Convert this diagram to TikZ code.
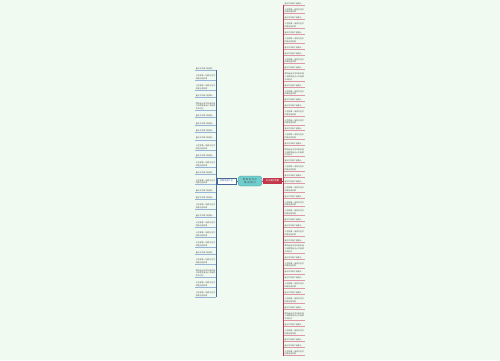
\documentclass[tikz,border=0pt]{standalone}
\usepackage{fontspec}
\newfontfamily\cjk{Noto Sans CJK SC}
\XeTeXlinebreaklocale "zh"
\XeTeXlinebreakskip=0pt plus 1pt
\usetikzlibrary{positioning}
\definecolor{bgcolor}{RGB}{241,250,241}
\definecolor{midcolor}{RGB}{110,205,205}
\definecolor{leftcolor}{RGB}{70,105,150}
\definecolor{leftline}{RGB}{150,180,215}
\definecolor{rightcolor}{RGB}{195,55,75}
\definecolor{rightline}{RGB}{225,150,165}
\newcommand{\leaftext}[1]{\ifcase#1\or
  星光不负每个赶路人\or
  人生就像一场旅行在乎的是沿途风景\or
  愿你走出半生归来仍是少年眼里有光心中有爱不负时光\fi}
\tikzset{
  leaf/.style={inner sep=0.4pt, text width=19.6pt, align=left,
    font=\cjk\fontsize{1.9}{2.7}\selectfont, text=black!70},
  branch/.style={inner sep=0.5pt, minimum width=19pt, minimum height=6pt,
    font=\cjk\fontsize{2.2}{2.8}\selectfont},
}
\begin{document}
\begin{tikzpicture}[x=1pt,y=-1pt]
  \fill[bgcolor] (0,0) rectangle (500,360);
  \useasboundingbox (0,0) rectangle (500,360);
  % centre and branches
  \node[fill=midcolor, draw=midcolor!75!black, line width=0.3pt, rounded corners=3pt,
    minimum width=24pt, minimum height=10pt, inner sep=0.5pt, text width=20pt, align=center,
    font=\cjk\fontsize{2.3}{3}\selectfont, text=black!70] (root) at (250,181)
    {唯美的句子\\精选摘抄};
  \node[branch, draw=leftcolor, fill=white, line width=0.4pt, text=leftcolor] (lbr) at (226.5,181) {经典语录大全};
  \node[branch, fill=rightcolor, text=white] (rbr) at (272.5,181) {句子摘抄合集};
  \draw[leftcolor, line width=0.5pt] (root) -- (lbr);
  \draw[rightcolor, line width=0.5pt] (root) -- (rbr);
  % left leaves
  \foreach \n [count=\i, remember=\i as \j (initially 0)] in
      {1,2,2,1,3,1,1,1,1,2,1,2,1,2,1,1,2,1,2,2,2,1,2,3,2,2}{
    \ifnum\i=1
      \node[leaf, anchor=north east] (l\i) at (216,67) {\leaftext{\n}};
    \else
      \node[leaf, below=4.4pt of l\j.south east, anchor=north east] (l\i) {\leaftext{\n}};
    \fi
    \draw[leftline, line width=0.4pt] (l\i.south west) -- (l\i.south east);
  }
  \draw[leftcolor, line width=0.6pt] ([xshift=0.4pt]l1.south east) -- ([xshift=0.4pt]l26.south east);
  \draw[leftcolor, line width=0.5pt] (lbr.west) -- ([xshift=0.4pt]lbr.west -| l1.south east);
  % right leaves
  \foreach \n [count=\i, remember=\i as \j (initially 0)] in
      {1,2,1,2,1,2,1,1,2,1,3,1,2,1,1,2,2,1,2,1,3,1,2,1,1,2,1,2,2,1,
       1,2,1,3,1,2,1,1,2,1,2,1,3,1,2,1,1,2}{
    \ifnum\i=1
      \node[leaf, anchor=north west] (r\i) at (284,2) {\leaftext{\n}};
    \else
      \node[leaf, below=3pt of r\j.south west, anchor=north west] (r\i) {\leaftext{\n}};
    \fi
    \draw[rightline, line width=0.4pt] (r\i.south west) -- (r\i.south east);
  }
  \draw[rightcolor, line width=0.6pt] ([xshift=-0.4pt]r1.south west) -- ([xshift=-0.4pt]r48.south west);
  \draw[rightcolor, line width=0.5pt] (rbr.east) -- ([xshift=-0.4pt]rbr.east -| r1.south west);
\end{tikzpicture}
\end{document}
